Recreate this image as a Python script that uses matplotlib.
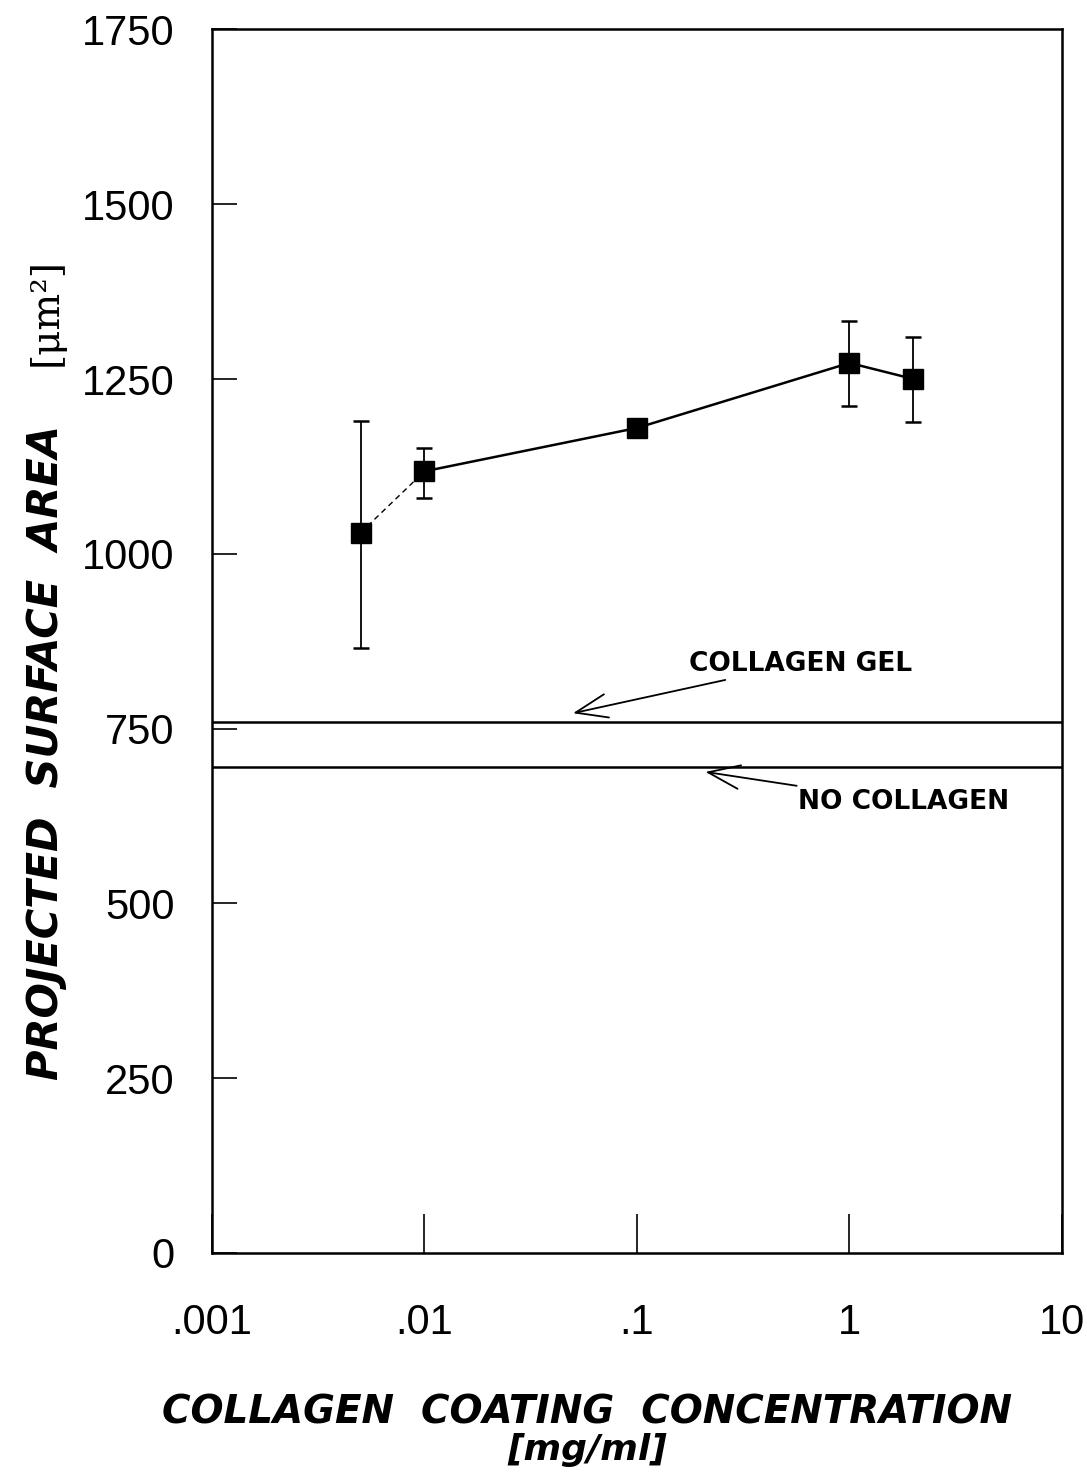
import matplotlib
matplotlib.use("Agg")
import matplotlib.pyplot as plt
import numpy as np

# collagen coating concentration (mg/ml) and projected surface area (um^2)
conc = [0.005, 0.01, 0.1, 1.0, 2.0]
area = [1030, 1118, 1180, 1273, 1250]
err_lo = [165, 38, 0, 62, 62]
err_hi = [160, 33, 0, 60, 60]

# reference levels
gel_level = 760
no_collagen_level = 695

x_ticks = [0.001, 0.01, 0.1, 1, 10]
x_tick_labels = [".001", ".01", ".1", "1", "10"]
y_ticks = [0, 250, 500, 750, 1000, 1250, 1500, 1750]

narrow = ["Liberation Sans Narrow", "DejaVu Sans Condensed", "Liberation Sans"]

fig = plt.figure(figsize=(10.87, 14.74), dpi=100)
ax = fig.add_axes([0.195, 0.150, 0.782, 0.830])

ax.set_xscale("log")
ax.set_xlim(0.001, 10)
ax.set_ylim(0, 1750)

# first segment dashed, the rest solid
ax.plot(conc[:2], area[:2], color="black", lw=1.0, ls=(0, (4, 3)))
ax.plot(conc[1:], area[1:], color="black", lw=1.8)
ax.errorbar(conc, area, yerr=[err_lo, err_hi], fmt="s", color="black",
            ms=15, elinewidth=1.3, capsize=6, capthick=1.8)

ax.axhline(gel_level, color="black", lw=1.8)
ax.axhline(no_collagen_level, color="black", lw=1.8)

ax.annotate("COLLAGEN GEL", xy=(0.05, 772), xytext=(0.175, 843),
            fontsize=19, fontweight="bold", va="center", ha="left",
            arrowprops=dict(arrowstyle="->,head_length=1.2,head_width=0.45",
                            color="black", lw=1.3, shrinkA=2, shrinkB=0))
ax.annotate("NO COLLAGEN", xy=(0.21, 688), xytext=(0.57, 645),
            fontsize=19, fontweight="bold", va="center", ha="left",
            arrowprops=dict(arrowstyle="->,head_length=1.2,head_width=0.45",
                            color="black", lw=1.3, shrinkA=2, shrinkB=0))

ax.set_xticks(x_ticks)
ax.set_xticklabels(x_tick_labels, family=narrow, fontsize=30)
ax.xaxis.set_minor_locator(matplotlib.ticker.NullLocator())
ax.set_yticks(y_ticks)
ax.set_yticklabels([str(v) for v in y_ticks], family=narrow, fontsize=30)
ax.tick_params(axis="x", direction="in", length=28, width=1.2, pad=36)
ax.tick_params(axis="y", direction="in", length=18, width=1.2, pad=27)

for s in ax.spines.values():
    s.set_linewidth(1.8)

fig.text(0.54, 0.042, "COLLAGEN  COATING  CONCENTRATION", ha="center",
         va="center", fontsize=28, fontweight="bold", style="italic")
fig.text(0.54, 0.016, "[mg/ml]", ha="center", va="center", fontsize=26,
         fontweight="bold", style="italic")

fig.text(0.042, 0.267, "PROJECTED  SURFACE  AREA", rotation=90, ha="center",
         va="bottom", fontsize=30, fontweight="bold", style="italic")
fig.text(0.042, 0.752, "[μm²]", rotation=90, ha="center", va="bottom",
         fontsize=28, family="DejaVu Serif")

fig.savefig("out.png", dpi=100)
